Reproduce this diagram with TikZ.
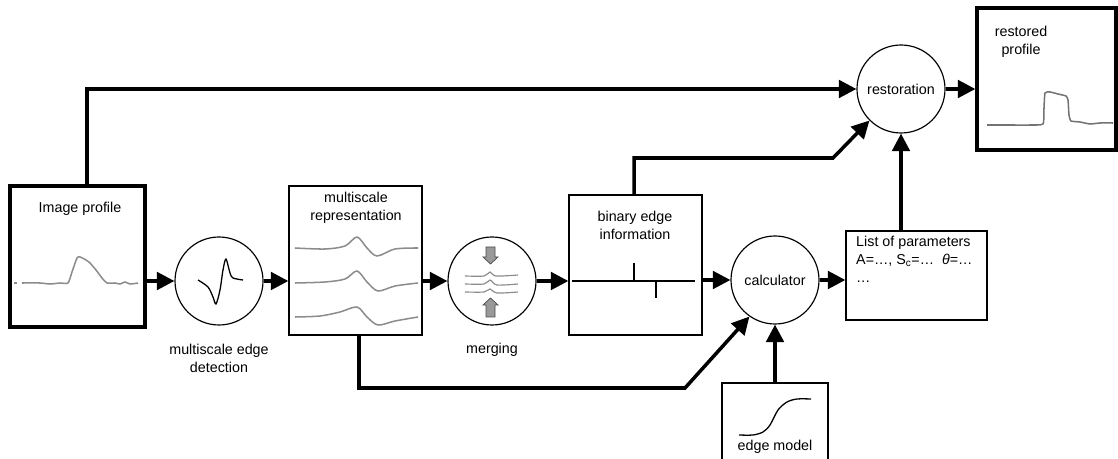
\documentclass[tikz,border=0pt]{standalone}
\usepackage{fontspec}
\setmainfont{Liberation Sans}
\usetikzlibrary{arrows.meta}
\begin{document}
\begin{tikzpicture}[x=0.03cm,y=-0.03cm,
  font=\fontsize{12.2}{15.3}\selectfont,
  conn/.style={line width=3pt,-{Triangle[length=15pt,width=15pt]}},
  thinbox/.style={draw,line width=1.1pt,inner sep=0pt},
  thickbox/.style={draw,line width=2.8pt,inner sep=0pt},
  circ/.style={draw,circle,line width=1pt,minimum size=2.64cm,inner sep=0pt},
  sig/.style={line width=1.3pt,draw=black!45},
  sigk/.style={line width=1.1pt,draw=black},
  lbl/.style={align=center,inner sep=0pt},
  garrow/.style={draw=black!70,fill=black!40,line width=0.6pt}
]
\useasboundingbox (0,0) rectangle (1118,459);

% boxes
\node[thickbox,minimum width=4.05cm,minimum height=4.23cm] (img) at (77.5,256.5) {};
\node[thinbox,minimum width=3.99cm,minimum height=4.47cm] (ms) at (355.5,260.5) {};
\node[thinbox,minimum width=3.99cm,minimum height=4.2cm] (bin) at (635.5,265) {};
\node[thinbox,minimum width=4.23cm,minimum height=2.67cm] (list) at (916.5,275.5) {};
\node[thinbox,minimum width=3.18cm,minimum height=2.7cm] (em) at (775,428) {};
\node[thickbox,minimum width=4.17cm,minimum height=4.26cm] (rp) at (1046.5,79) {};

% circles
\node[circ] (edc) at (219,281) {};
\node[circ] (mg) at (492,281) {};
\node[circ] (calc) at (775,280) {calculator};
\node[circ] (rest) at (901,89) {restoration};

% labels
\node[lbl] (t1) at (80,209) {Image profile};
\node[lbl] (t2) at (356,208) {multiscale\\representation};
\node[lbl] (t3) at (635,225) {binary edge\\information};
\node[lbl,align=left,anchor=north west] (t4) at (856,236) {List of parameters\\A=…, S\textsubscript{c}=…\ \ \textit{θ}=…\\…};
\node[lbl] (t5) at (1021,42) {restored\\profile};
\node[lbl] (t6) at (775,447) {edge model};
\node[lbl] (t7) at (219,358) {multiscale edge\\detection};
\node[lbl] (t8) at (492,350) {merging};

% signals
\draw[sig] (14,283) -- (17,283);
\draw[sig] plot[smooth,tension=0.4] coordinates {(22,283) (40,283) (50,284) (60,283) (68,283) (72,272) (77,258) (80,257) (86,260) (90,263) (96,270) (102,278) (107,283) (115,283) (120,284) (125,282) (130,284) (138,283)};
\draw[sigk] plot[smooth,tension=0.5] coordinates {(198,280) (208,287) (213,297) (216,304) (220,290) (223,270) (226,259) (230,273) (233,278) (243,280)};
\draw[sig] plot[smooth,tension=0.5] coordinates {(295,248) (325,249) (345,246) (357,237) (367,248) (377,256) (395,249) (418,248)};
\draw[sig] plot[smooth,tension=0.5] coordinates {(295,283) (325,282) (345,279) (357,271) (367,282) (378,291) (395,286) (418,283)};
\draw[sig] plot[smooth,tension=0.5] coordinates {(295,317) (320,316) (340,312) (357,307) (367,317) (378,325) (395,321) (418,317)};
% merging
\draw[sig,line width=1pt] plot[smooth,tension=0.5] coordinates {(465,276) (484,276) (490,272) (496,276) (518,275)};
\draw[sig,line width=1pt] plot[smooth,tension=0.5] coordinates {(465,284) (484,284) (490,280) (497,285) (518,284)};
\draw[sig,line width=1pt] plot[smooth,tension=0.5] coordinates {(465,292) (484,292) (490,289) (497,293) (518,292)};
\draw[garrow] (486,247) -- (495,247) -- (495,257) -- (498,257) -- (490.5,264) -- (483,257) -- (486,257) -- cycle;
\draw[garrow] (486,317) -- (495,317) -- (495,305) -- (498,305) -- (490.5,298) -- (483,305) -- (486,305) -- cycle;
% binary edge
\draw[sigk] (572,281) -- (695,281);
\draw[sigk] (634,281) -- (634,263);
\draw[sigk] (656,281) -- (656,298);
% edge model
\draw[sigk] plot[smooth,tension=0.5] coordinates {(739,435) (753,435) (763,432) (770,425) (778,410) (787,402) (797,399) (811,399)};
% restored
\draw[sig,draw=black!55] plot[smooth,tension=0.3] coordinates {(987,125) (1010,125) (1030,125) (1043,124) (1044,108) (1045,93) (1050,92) (1058,94) (1066,96) (1068,100) (1069,115) (1071,121) (1080,122) (1090,124) (1100,123) (1113,123)};

% connectors
\draw[conn] (img.east |- edc.center) -- (edc.west);
\draw[conn] (edc.east) -- (ms.west |- edc.center);
\draw[conn] (ms.east |- mg.center) -- (mg.west);
\draw[conn] (mg.east) -- (bin.west |- mg.center);
\draw[conn] (bin.east |- calc.center) -- (calc.west);
\draw[conn] (calc.east) -- (list.west |- calc.center);
\draw[conn] (em.north) -- (calc.south);
\draw[conn] (rest.south |- list.north) -- (rest.south);
\draw[conn] (rest.east) -- (rp.west |- rest.east);

\coordinate (a1) at (87,89);
\draw[conn] (img.north -| a1) -- (a1) -- (rest.west);

\coordinate (b1) at (634,158);
\coordinate (b2) at (833,158);
\draw[conn] (bin.north -| b1) -- (b1) -- (b2) -- (rest.225);

\coordinate (c1) at (359,388);
\coordinate (c2) at (685,388);
\draw[conn] (ms.south -| c1) -- (c1) -- (c2) -- (calc.235);
\end{tikzpicture}
\end{document}
